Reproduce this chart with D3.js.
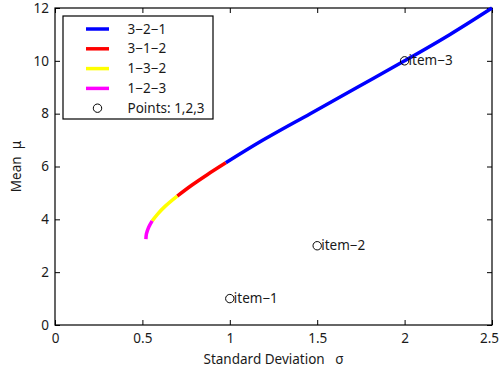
<!DOCTYPE html>
<html>
<head>
<meta charset="utf-8">
<script src="https://cdn.jsdelivr.net/npm/d3@7"></script>
<style>
  body { margin: 0; background: #fff; }
  text { font-family: "Noto Sans", sans-serif; fill: #1a1a1a; white-space: pre; }
</style>
</head>
<body>
<svg id="chart" width="500" height="373"></svg>
<script>
// frontier segments: [sigma, mu]
const seg321 = [[0.977, 6.14], [1.19, 7], [1.46, 8], [1.73, 9], [2.0, 10], [2.26, 11], [2.5, 12]];
const seg312 = [[0.699, 4.88], [0.784, 5.3], [0.873, 5.7], [0.977, 6.14]];
const seg132 = [[0.556, 3.94], [0.587, 4.2], [0.631, 4.5], [0.699, 4.88]];
const seg123 = [[0.52, 3.25], [0.523, 3.45], [0.536, 3.7], [0.556, 3.94]];

const pointSigma = [1, 1.5, 2];
const pointMu = [1, 3, 10];
const pointNames = ['item\u22121', 'item\u22122', 'item\u22123'];

const legendNames = ['3\u22122\u22121', '3\u22121\u22122', '1\u22123\u22122', '1\u22122\u22123', 'Points: 1,2,3'];
const segColors = ['#0000ff', '#ff0000', '#ffff00', '#ff00ff'];

const xTicks = [0, 0.5, 1, 1.5, 2, 2.5];
const yTicks = [0, 2, 4, 6, 8, 10, 12];

const svg = d3.select('#chart');
const m = { left: 55, right: 492, top: 8, bottom: 325 };

const x = d3.scaleLinear().domain([0, 2.5]).range([m.left, m.right]);
const y = d3.scaleLinear().domain([0, 12]).range([m.bottom, m.top]);

// axes, MATLAB style: ticks inward, box all round
const tickLen = 5;
svg.append('g')
  .attr('transform', `translate(0,${m.bottom})`)
  .call(d3.axisBottom(x).tickValues(xTicks).tickSizeInner(-tickLen).tickSizeOuter(0)
    .tickPadding(8).tickFormat(d3.format('')))
  .call(g => g.selectAll('text').style('font-size', '13.5px'))
  .call(g => g.selectAll('text').filter(d => d === 2.5).attr('dx', -3));

svg.append('g')
  .attr('transform', `translate(${m.left},0)`)
  .call(d3.axisLeft(y).tickValues(yTicks).tickSizeInner(-tickLen).tickSizeOuter(0)
    .tickPadding(6).tickFormat(d3.format('')))
  .call(g => g.selectAll('text').style('font-size', '13.5px'));

svg.append('g')
  .attr('transform', `translate(0,${m.top})`)
  .call(d3.axisTop(x).tickValues(xTicks).tickSizeInner(-tickLen).tickSizeOuter(0).tickFormat(''));

svg.append('g')
  .attr('transform', `translate(${m.right},0)`)
  .call(d3.axisRight(y).tickValues(yTicks).tickSizeInner(-tickLen).tickSizeOuter(0).tickFormat(''));

svg.selectAll('.domain').remove();
svg.selectAll('.tick line').attr('stroke', '#000');

svg.append('rect')
  .attr('x', m.left).attr('y', m.top)
  .attr('width', m.right - m.left).attr('height', m.bottom - m.top)
  .attr('fill', 'none').attr('stroke', '#000').attr('stroke-width', 1.2);

// curve
const line = d3.line()
  .x(d => x(d[0]))
  .y(d => y(d[1]))
  .curve(d3.curveCatmullRom);

[seg321, seg312, seg132, seg123].forEach((seg, i) => {
  svg.append('path')
    .datum(seg)
    .attr('d', line)
    .attr('fill', 'none')
    .attr('stroke', segColors[i])
    .attr('stroke-width', 3.5);
});

// points
pointSigma.forEach((s, i) => {
  svg.append('circle')
    .attr('cx', x(s)).attr('cy', y(pointMu[i]))
    .attr('r', 4.2)
    .attr('fill', 'none').attr('stroke', '#000').attr('stroke-width', 1);
  svg.append('text')
    .attr('x', x(s) + 4).attr('y', y(pointMu[i]) + 4.5)
    .style('font-size', '13.5px')
    .text(pointNames[i]);
});

// legend
const lg = svg.append('g');
lg.append('rect')
  .attr('x', 63).attr('y', 16).attr('width', 150).attr('height', 103)
  .attr('fill', '#fff').attr('stroke', '#000').attr('stroke-width', 1.2);

legendNames.forEach((name, i) => {
  const ly = 29 + i * 19.8;
  if (i < 4) {
    lg.append('line')
      .attr('x1', 86).attr('x2', 109).attr('y1', ly).attr('y2', ly)
      .attr('stroke', segColors[i]).attr('stroke-width', 3.5);
  } else {
    lg.append('circle')
      .attr('cx', 97.5).attr('cy', ly).attr('r', 4.2)
      .attr('fill', 'none').attr('stroke', '#000');
  }
  lg.append('text')
    .attr('x', 127.5).attr('y', ly + 4.5)
    .style('font-size', '13.5px')
    .text(name);
});

// axis titles
svg.append('text')
  .attr('x', (m.left + m.right) / 2).attr('y', 364)
  .attr('text-anchor', 'middle')
  .style('font-size', '13.5px')
  .text('Standard Deviation   \u03c3');

svg.append('text')
  .attr('transform', `translate(21,${(m.top + m.bottom) / 2}) rotate(-90)`)
  .attr('text-anchor', 'middle')
  .style('font-size', '13.5px')
  .text('Mean  \u03bc');
</script>
</body>
</html>
